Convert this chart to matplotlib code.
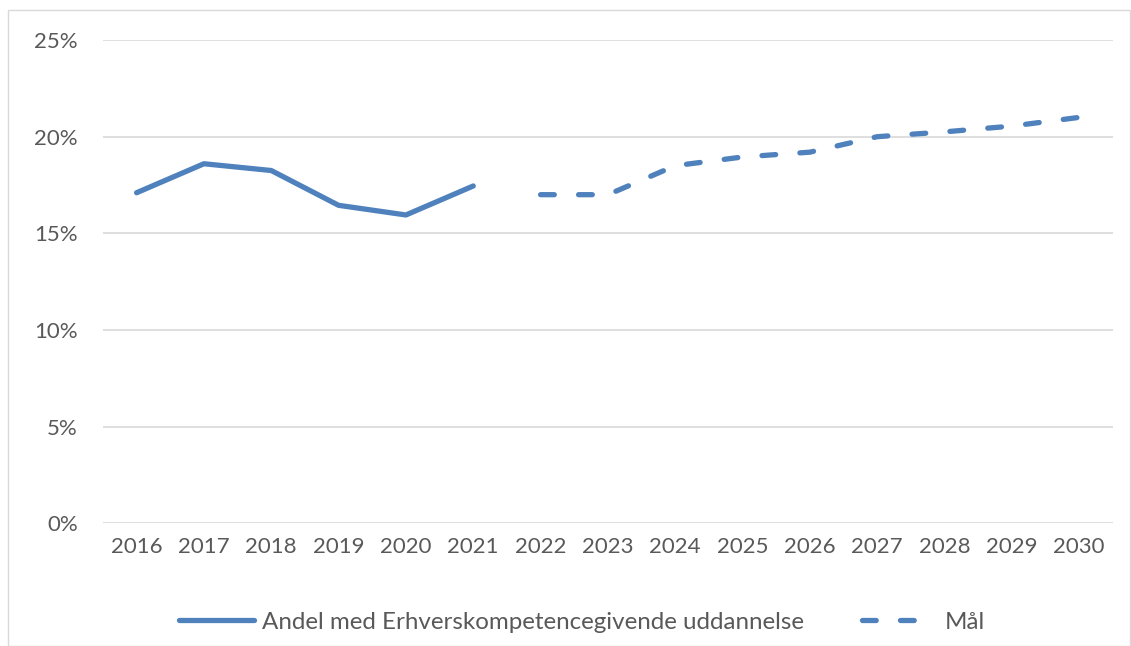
import matplotlib
matplotlib.use('Agg')
import matplotlib.pyplot as plt
from matplotlib.patches import Rectangle
from matplotlib.ticker import FuncFormatter

# data
years = [str(y) for y in range(2016, 2031)]
andel_years = years[:6]
andel = [17.1, 18.6, 18.25, 16.45, 15.95, 17.45]
maal_years = years[6:]
maal = [17.0, 17.0, 18.5, 18.95, 19.2, 20.0, 20.25, 20.55, 21.0]
y_ticks = [0, 5, 10, 15, 20, 25]

blue = '#4F81BD'
grey_text = '#595959'
plt.rcParams['font.family'] = ['Lato', 'DejaVu Sans']

fig = plt.figure(figsize=(11.31, 6.46), dpi=100)
ax = fig.add_axes([0.091, 0.190, 0.893, 0.748])

pos = {y: i for i, y in enumerate(years)}
ax.plot([pos[y] for y in andel_years], andel, color=blue, lw=3.8,
        solid_capstyle='round', solid_joinstyle='round',
        label='Andel med Erhverskompetencegivende uddannelse')
ax.plot([pos[y] for y in maal_years], maal, color=blue, lw=3.8,
        linestyle=(0, (2.6, 4.6)), dash_capstyle='round',
        label='Mål')

ax.set_xlim(-0.5, len(years) - 0.5)
ax.set_ylim(0, 25)
ax.set_xticks(range(len(years)))
ax.set_xticklabels(years)
ax.set_yticks(y_ticks)
ax.yaxis.set_major_formatter(FuncFormatter(lambda v, p: f'{v:.0f}%'))
ax.grid(axis='y', color='#D9D9D9', lw=1.2)
ax.set_axisbelow(True)
for s in ax.spines.values():
    s.set_visible(False)
ax.tick_params(length=0, labelsize=16, colors=grey_text, pad=10)
ax.tick_params(axis='y', pad=18)

leg = ax.legend(loc='center', bbox_to_anchor=(0.474, -0.205), ncol=2, frameon=False,
                fontsize=17.4, handlelength=3.1, handletextpad=0.33, columnspacing=2.4)
for t in leg.get_texts():
    t.set_color(grey_text)

# thin chart border
fig.patches.append(Rectangle((0.007, 0.0), 0.992, 0.985, transform=fig.transFigure,
                             fill=False, edgecolor='#D9D9D9', lw=1))

fig.savefig('out.png', dpi=100)
